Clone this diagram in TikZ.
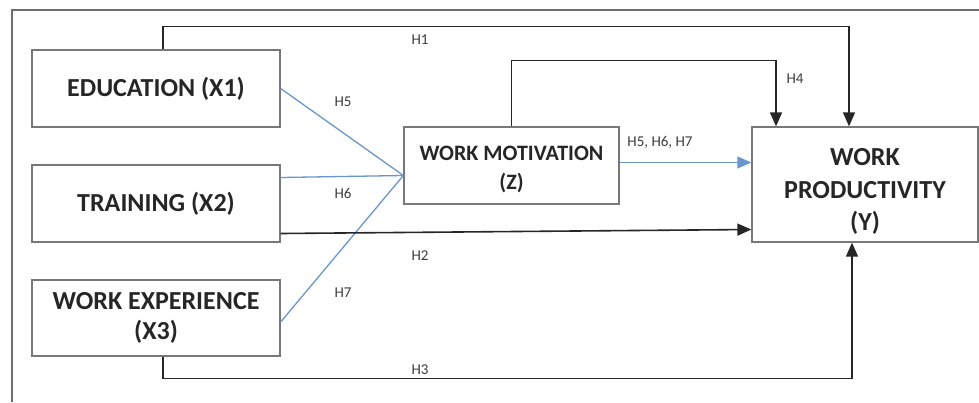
\documentclass[tikz,border=0pt]{standalone}
\usepackage{fontspec}
\setmainfont{Carlito}
\usetikzlibrary{arrows.meta}

\definecolor{frameline}{RGB}{110,110,110}
\definecolor{boxline}{RGB}{120,120,120}
\definecolor{pathblue}{RGB}{105,150,205}
\definecolor{labeltext}{RGB}{60,60,60}

\tikzset{
  varbox/.style={draw=boxline, line width=1.3pt, rectangle, align=center,
    font=\bfseries\fontsize{26}{32}\selectfont, text=black!85},
  conn/.style={draw=black!85, line width=1.6pt, -{Triangle[length=14pt,width=12pt]}},
  medline/.style={draw=pathblue, line width=1.3pt},
  hyp/.style={font=\fontsize{15}{17}\selectfont, text=labeltext, inner sep=0pt}
}

\begin{document}
\begin{tikzpicture}[x=1pt, y=-1pt]
        \useasboundingbox (0,0) rectangle (979,402);
        % Outer frame
        \draw[frameline, line width=2pt] (12,402) -- (12,10) -- (979,10);

        % Variables
        \node[varbox, minimum width=248pt, minimum height=77pt] (edu) at (156,88.5) {EDUCATION (X1)};
        \node[varbox, minimum width=248pt, minimum height=77pt] (trn) at (156,203.5) {TRAINING (X2)};
        \node[varbox, minimum width=248pt, minimum height=76pt] (exp) at (156,318) {WORK EXPERIENCE\\[-2pt](X3)};
        \node[varbox, minimum width=215pt, minimum height=77pt,
              font=\bfseries\fontsize{22}{29}\selectfont] (mot) at (511.5,165.5) {\rule{0pt}{22pt}WORK MOTIVATION\\(Z)};
        \node[varbox, minimum width=226pt, minimum height=115pt,
              font=\bfseries\fontsize{26}{32.5}\selectfont] (prod) at (865,184.5) {\rule{0pt}{31pt}WORK\\PRODUCTIVITY\\(Y)};

        % Mediation paths
        \coordinate (hub) at ([yshift=-10pt]mot.west);
        \draw[medline] (edu.east) -- (hub);
        \draw[medline] ([yshift=26pt]trn.east) -- (hub);
        \draw[medline] ([yshift=-4pt]exp.east) -- (hub);
        \draw[medline, -{Triangle[length=14pt,width=12pt]}] ([yshift=3pt]mot.east) -- ([yshift=22pt]prod.west);

        % Direct paths
        \draw[conn] ([xshift=7pt]edu.north) -- ++(0,23pt) -| ([xshift=-16pt]prod.north);
        \draw[conn] (mot.north) -- ++(0,66pt) -| ([xshift=-89pt]prod.north);
        \draw[conn] ([yshift=-30pt]trn.east) -- ([yshift=-45pt]prod.west);
        \draw[conn] ([xshift=7pt]exp.south) -- ++(0,-22pt) -| ([xshift=-13pt]prod.south);

        % Labels
        \node[hyp] (h1) at (420,40) {H1};
        \node[hyp] (h2) at (420,256) {H2};
        \node[hyp] (h3) at (420,370) {H3};
        \node[hyp] (h4) at (795,79) {H4};
        \node[hyp] (h5) at (343,102) {H5};
        \node[hyp] (h6) at (343,193) {H6};
        \node[hyp] (h7) at (343,293) {H7};
        \node[hyp] (h567) at (660,142) {H5, H6, H7};
\end{tikzpicture}
\end{document}
